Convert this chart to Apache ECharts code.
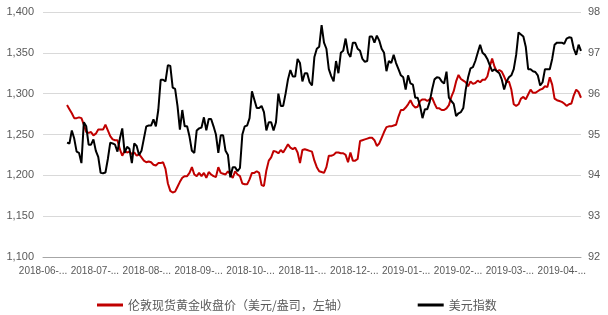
<!DOCTYPE html>
<html><head><meta charset="utf-8">
<script src="https://cdn.jsdelivr.net/npm/echarts@6/dist/echarts.min.js"></script>
<style>html,body{margin:0;padding:0;background:#fff}#c{width:608px;height:315px}</style>
</head><body><div id="c"></div>
<script>
const tickLabels = ['2018-06-...','2018-07-...','2018-08-...','2018-09-...','2018-10-...','2018-11-...','2018-12-...','2019-01-...','2019-02-...','2019-03-...','2019-04-...'];
const goldName = '伦敦现货黄金收盘价（美元/盎司，左轴）';
const dxyName = '美元指数';
const leadingBlank = 10;
const totalPoints = 225;
const daysPerLabel = 21.6;
const gold = [1286,1281,1276,1270,1270,1271,1270,1262,1253,1252,
1253,1249,1251,1256,1256,1256,1262,1255,1248,1244,
1243,1243,1232,1224,1230,1228,1229,1226,1228,1224,
1226,1222,1218,1216,1217,1216,1213,1212,1215,1215,
1216,1208,1190,1181,1179,1180,1186,1192,1197,1199,
1199,1203,1210,1201,1199,1203,1199,1203,1197,1204,
1201,1199,1198,1210,1203,1202,1201,1205,1201,1197,
1205,1201,1199,1190,1189,1189,1195,1203,1203,1205,
1203,1188,1187,1206,1218,1222,1230,1229,1227,1231,
1228,1233,1238,1234,1232,1234,1228,1215,1231,1232,
1231,1230,1229,1218,1210,1205,1204,1203,1210,1224,
1224,1225,1228,1228,1227,1227,1225,1216,1228,1218,
1218,1220,1242,1243,1244,1245,1246,1246,1243,1236,
1239,1246,1253,1259,1260,1260,1261,1262,1272,1280,
1280,1283,1287,1292,1286,1283,1284,1291,1293,1293,
1291,1293,1295,1288,1282,1282,1280,1280,1282,1286,
1296,1303,1315,1323,1318,1316,1314,1309,1315,1312,
1313,1316,1314,1317,1317,1321,1333,1343,1333,1327,
1329,1327,1321,1314,1315,1305,1287,1285,1287,1294,
1296,1293,1299,1305,1301,1301,1303,1305,1306,1309,
1308,1320,1311,1294,1292,1291,1290,1288,1285,1287,
1288,1298,1305,1302,1295];
const dxy = [94.8,94.78,95.1,94.9,94.58,94.55,94.3,95.3,95.2,94.75,
94.75,94.88,94.6,94.45,94.06,94.05,94.07,94.4,94.8,94.78,
94.75,94.58,94.9,95.15,94.55,94.7,94.65,94.3,94.78,94.72,
94.5,94.6,94.9,95.2,95.22,95.22,95.37,95.2,95.6,96.34,
96.34,96.3,96.7,96.68,96.15,96.12,95.7,95.12,95.6,95.2,
95.2,94.95,94.6,94.55,95.1,95.15,95.17,95.42,95.1,95.38,
95.38,95.2,95.0,94.55,94.98,94.98,94.6,94.5,93.95,94.2,
94.2,94.1,94.18,95.0,95.2,95.22,95.4,96.06,95.85,95.65,
95.65,95.7,95.55,95.1,95.3,95.3,95.1,95.3,96.0,95.7,
95.7,96.0,96.35,96.58,96.42,96.42,96.85,96.75,96.3,96.5,
96.5,96.28,96.2,96.9,97.1,97.15,97.68,97.25,97.1,96.6,
96.43,96.3,96.8,96.5,97.0,97.05,97.35,97.0,96.9,97.25,
97.25,97.1,97.05,96.85,96.78,96.8,97.4,97.4,97.25,97.42,
97.3,97.1,97.0,96.55,96.8,96.75,96.95,96.75,96.6,96.45,
96.4,96.1,96.45,96.25,96.22,95.9,95.9,95.7,95.4,95.62,
95.62,95.8,96.1,96.35,96.4,96.39,96.3,96.25,96.54,95.9,
95.82,95.75,95.45,95.52,95.55,95.65,96.1,96.4,96.62,96.65,
96.8,97.0,97.2,97.0,96.95,96.85,96.7,96.55,96.6,96.55,
96.5,96.35,96.1,96.3,96.4,96.45,96.6,96.95,97.5,97.45,
97.4,97.15,96.6,96.6,96.55,96.53,96.45,96.2,96.28,96.6,
96.6,96.6,96.85,97.2,97.25,97.25,97.25,97.22,97.35,97.38,
97.37,97.1,96.95,97.2,97.05];
const leftAxis = {min:1100, max:1400, step:50};
const rightAxis = {min:92, max:98, step:1};

const toPairs = arr => arr.map((v, k) => [k + leadingBlank, v]);
const labelFont = {color:'#595959', fontFamily:'Liberation Sans, Arial, sans-serif'};
const chart = echarts.init(document.getElementById('c'), null, {renderer:'canvas'});
chart.setOption({
  animation:false,
  backgroundColor:'#ffffff',
  grid:{left:43, right:27, top:12, bottom:58},
  legend:{
    left:92, top:294, itemWidth:26, itemHeight:3, itemGap:69, icon:'rect',
    textStyle:{fontSize:12, color:'#595959', fontFamily:'Noto Sans CJK SC'},
    data:[{name:goldName}, {name:dxyName}]
  },
  xAxis:{
    type:'value', min:0, max:totalPoints-1, interval:daysPerLabel,
    axisLine:{show:true, lineStyle:{color:'#a6a6a6', width:1}},
    axisTick:{show:false}, splitLine:{show:false},
    axisLabel:Object.assign({fontSize:10, margin:9, showMaxLabel:false,
      formatter: v => { const j = Math.round(v / daysPerLabel); return Math.abs(j*daysPerLabel - v) < 0.01 && tickLabels[j] ? tickLabels[j] : ''; }}, labelFont)
  },
  yAxis:[{
    type:'value', position:'left', min:leftAxis.min, max:leftAxis.max, interval:leftAxis.step,
    axisLine:{show:false}, axisTick:{show:false},
    splitLine:{lineStyle:{color:'#d9d9d9', width:1}},
    axisLabel:Object.assign({fontSize:11, margin:9, formatter: v => v.toLocaleString('en-US')}, labelFont)
  },{
    type:'value', position:'right', min:rightAxis.min, max:rightAxis.max, interval:rightAxis.step,
    axisLine:{show:false}, axisTick:{show:false}, splitLine:{show:false},
    axisLabel:Object.assign({fontSize:11, margin:7}, labelFont)
  }],
  series:[{
    name:goldName, type:'line', yAxisIndex:0, showSymbol:false, symbol:'none',
    color:'#C00000', lineStyle:{width:2, color:'#C00000'}, data:toPairs(gold)
  },{
    name:dxyName, type:'line', yAxisIndex:1, showSymbol:false, symbol:'none',
    color:'#000000', lineStyle:{width:2, color:'#000000'}, data:toPairs(dxy)
  }]
});
</script></body></html>
